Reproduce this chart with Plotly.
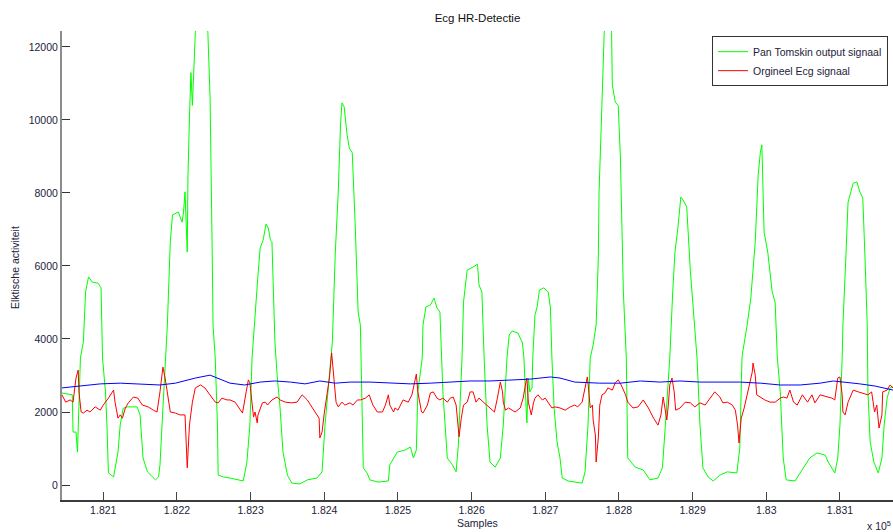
import plotly.graph_objects as go

# Pan-Tompkins output (integrated signal)
pt_samples = [182044, 182058, 182059, 182063, 182065, 182069, 182073, 182076, 182080, 182085,
              182093, 182097, 182099, 182103, 182105, 182107, 182114, 182116, 182120, 182123,
              182127, 182133, 182146, 182150, 182154, 182160, 182171, 182175, 182177, 182181,
              182187, 182191, 182194, 182202, 182207, 182209, 182211, 182214, 182215, 182217,
              182219, 182221, 182222, 182225, 182230, 182236, 182242, 182245, 182248, 182249,
              182252, 182255, 182256, 182263, 182272, 182290, 182295, 182299, 182302, 182306,
              182310, 182313, 182317, 182321, 182324, 182327, 182329, 182331, 182333, 182336,
              182340, 182344, 182350, 182356, 182367, 182377, 182390, 182397, 182401, 182405,
              182411, 182415, 182419, 182422, 182424, 182427, 182431, 182434, 182438, 182442,
              182446, 182449, 182451, 182453, 182458, 182462, 182473, 182487, 182489, 182494,
              182499, 182510, 182517, 182521, 182525, 182527, 182533, 182534, 182538, 182544,
              182549, 182553, 182557, 182561, 182564, 182567, 182574, 182579, 182582, 182587,
              182589, 182594, 182602, 182608, 182610, 182614, 182617, 182621, 182625, 182632,
              182639, 182643, 182648, 182651, 182655, 182663, 182669, 182671, 182674, 182675,
              182677, 182679, 182682, 182683, 182686, 182689, 182692, 182698, 182704, 182707,
              182709, 182712, 182716, 182720, 182723, 182731, 182750, 182754, 182758, 182761,
              182765, 182769, 182772, 182773, 182776, 182779, 182780, 182785, 182790, 182791,
              182795, 182799, 182802, 182806, 182810, 182812, 182822, 182833, 182842, 182853,
              182859, 182863, 182869, 182873, 182876, 182880, 182884, 182887, 182892, 182897,
              182901, 182906, 182910, 182914, 182921, 182928, 182937, 182947, 182960, 182964,
              182967, 182968, 182974, 182979, 182985, 182989, 182992, 182994, 182997, 183002,
              183008, 183012, 183015, 183019, 183023, 183027, 183039, 183050, 183059, 183069,
              183080, 183084, 183093, 183097, 183100, 183103, 183104, 183108, 183111, 183118,
              183123, 183127, 183131, 183134, 183137, 183138, 183141, 183146, 183152, 183157,
              183160, 183164, 183168, 183172]
pt_values = [2520, 2470, 1450, 1450, 900, 3480, 3920, 5290, 5700, 5560,
             5530, 5400, 3480, 2550, 1640, 330, 220, 470, 900, 1640,
             2100, 2140, 2140, 1920, 740, 360, 140, 220, 550, 2110,
             4380, 6660, 7400, 7480, 7200, 7480, 8030, 6380, 8490, 10050,
             11300, 10400, 10880, 12400, 13600, 13400, 12400, 10600, 6220, 4380,
             3480, 1640, 270, 220, 190, 110, 630, 1640, 3480, 4740,
             5750, 6490, 6710, 7150, 7040, 6710, 6660, 5290, 3920, 3010,
             2110, 900, 270, 50, 30, 140, 190, 360, 1640, 2550,
             3920, 6380, 8030, 9860, 10470, 10360, 9590, 9230, 9100, 7120,
             4740, 4380, 2550, 470, 330, 140, 80, 110, 550, 740,
             900, 960, 1040, 740, 960, 2550, 3480, 4380, 4880, 4930,
             5120, 4850, 4740, 2550, 1640, 740, 550, 360, 1100, 3480,
             5010, 5890, 5970, 6050, 5480, 5290, 3480, 1640, 630, 490,
             740, 1640, 3480, 4110, 4220, 4160, 3890, 3480, 2110, 1700,
             2930, 2550, 2660, 3480, 4660, 4880, 5340, 5400, 5290, 4850,
             3480, 2110, 1180, 740, 190, 110, 50, 360, 1640, 3480,
             3840, 4380, 6220, 8030, 9860, 11700, 12400, 13000, 12400, 10960,
             10490, 10400, 8960, 5290, 3480, 740, 490, 410, 140, 190,
             470, 1640, 3480, 5290, 6380, 7040, 7890, 7810, 7620, 5840,
             4660, 3480, 1640, 470, 220, 110, 270, 360, 330, 1010,
             3480, 3640, 4380, 5120, 6660, 8490, 9120, 9320, 6930, 6380,
             5290, 5010, 3480, 2550, 740, 140, 110, 470, 740, 880,
             820, 630, 330, 740, 1640, 3480, 4380, 6220, 7750, 8270,
             8300, 8030, 7860, 6220, 4380, 2550, 1180, 630, 330, 740,
             1640, 2380, 2660, 2690]

# Original ECG
ecg_samples = [182044, 182049, 182055, 182059, 182063, 182066, 182067, 182070, 182073, 182078,
               182082, 182089, 182096, 182100, 182107, 182114, 182116, 182119, 182120, 182123,
               182126, 182130, 182134, 182141, 182147, 182153, 182161, 182168, 182173, 182177,
               182180, 182181, 182184, 182187, 182191, 182198, 182204, 182211, 182213, 182214,
               182217, 182221, 182225, 182232, 182238, 182245, 182252, 182256, 182261, 182268,
               182272, 182279, 182285, 182289, 182294, 182297, 182299, 182302, 182304, 182306,
               182309, 182310, 182316, 182320, 182323, 182329, 182336, 182340, 182347, 182356,
               182363, 182370, 182377, 182384, 182390, 182393, 182394, 182397, 182400, 182404,
               182407, 182410, 182411, 182413, 182416, 182419, 182424, 182428, 182435, 182439,
               182445, 182449, 182456, 182461, 182466, 182472, 182479, 182483, 182487, 182489,
               182494, 182496, 182500, 182507, 182514, 182519, 182522, 182525, 182527, 182532,
               182534, 182540, 182544, 182548, 182553, 182557, 182561, 182567, 182571, 182575,
               182579, 182582, 182583, 182586, 182589, 182594, 182598, 182602, 182606, 182610,
               182616, 182621, 182625, 182631, 182635, 182639, 182642, 182643, 182646, 182650,
               182655, 182659, 182666, 182670, 182673, 182675, 182677, 182681, 182684, 182686,
               182690, 182696, 182700, 182704, 182709, 182713, 182720, 182727, 182734, 182740,
               182744, 182750, 182753, 182757, 182758, 182761, 182764, 182765, 182768, 182769,
               182772, 182774, 182777, 182781, 182785, 182791, 182795, 182799, 182803, 182809,
               182812, 182819, 182826, 182833, 182840, 182847, 182853, 182857, 182860, 182863,
               182865, 182867, 182869, 182872, 182875, 182877, 182883, 182890, 182897, 182903,
               182910, 182917, 182924, 182930, 182937, 182941, 182947, 182954, 182958, 182961,
               182963, 182966, 182970, 182974, 182978, 182981, 182982, 182985, 182987, 182992,
               182998, 183005, 183012, 183019, 183023, 183028, 183032, 183037, 183042, 183049,
               183056, 183062, 183066, 183073, 183082, 183089, 183093, 183097, 183100, 183103,
               183104, 183107, 183111, 183118, 183125, 183131, 183138, 183143, 183147, 183150,
               183153, 183157, 183158, 183164, 183168, 183172]
ecg_values = [2470, 2270, 2330, 2270, 2930, 3150, 2550, 2000, 1970, 2050,
              2000, 2140, 2050, 2190, 2380, 2600, 2270, 1970, 1830, 1920,
              1830, 2110, 2250, 2410, 2380, 2190, 2140, 2050, 2000, 2550,
              3010, 3230, 2930, 2470, 2000, 1970, 1920, 1920, 1180, 470,
              1640, 2270, 2660, 2740, 2660, 2470, 2270, 2250, 2380, 2330,
              2330, 2270, 2110, 1970, 2550, 2880, 2800, 2190, 1860, 2000,
              1700, 1920, 2250, 2270, 2190, 2330, 2410, 2330, 2270, 2250,
              2270, 2470, 2330, 2110, 1920, 1830, 1290, 1450, 1970, 2550,
              2930, 3620, 3370, 2930, 2270, 2140, 2270, 2190, 2250, 2190,
              2330, 2330, 2380, 2470, 2190, 2000, 2000, 2190, 2470, 2190,
              2000, 2110, 2050, 2330, 2270, 2470, 2740, 3040, 2550, 2000,
              1970, 2190, 2520, 2550, 2380, 2330, 2380, 2270, 2380, 2410,
              2190, 1640, 1320, 1830, 2190, 2270, 2550, 2550, 2270, 2380,
              2270, 2190, 2110, 2000, 2380, 2820, 2550, 2270, 2050, 2110,
              2050, 2000, 2110, 2380, 2740, 2930, 2270, 1920, 2250, 2380,
              2470, 2330, 2380, 2270, 2110, 2140, 2110, 2050, 2140, 2190,
              2140, 2270, 2550, 2960, 2800, 2110, 2190, 1780, 1370, 630,
              1290, 2190, 2470, 2520, 2660, 2600, 2800, 2880, 2740, 2470,
              2270, 2110, 2140, 2330, 2110, 1830, 1640, 1920, 2410, 2000,
              1780, 2190, 2740, 2930, 2550, 2050, 2110, 2270, 2250, 2140,
              2250, 2190, 2380, 2550, 2410, 2250, 2270, 2190, 2050, 1640,
              1150, 1830, 2110, 2470, 2740, 3100, 3340, 3010, 2470, 2410,
              2330, 2270, 2270, 2380, 2410, 2380, 2600, 2270, 2190, 2470,
              2270, 2470, 2250, 2470, 2410, 2380, 2330, 2930, 2960, 2470,
              2000, 1920, 2270, 2600, 2550, 2520, 2470, 2550, 2000, 2190,
              1560, 1920, 2550, 2600, 2740, 2660]

# Adaptive detection threshold
thr_samples = [182044, 182069, 182096, 182123, 182150, 182177, 182198, 182225, 182245, 182259,
               182272, 182292, 182313, 182333, 182354, 182374, 182394, 182415, 182435, 182462,
               182496, 182517, 182544, 182571, 182598, 182625, 182652, 182679, 182707, 182720,
               182740, 182774, 182802, 182829, 182856, 182883, 182910, 182937, 182964, 182992,
               183019, 183046, 183073, 183091, 183107, 183127, 183148, 183172]
thr_values = [2660, 2710, 2770, 2790, 2770, 2740, 2790, 2930, 3010, 2900,
              2790, 2740, 2820, 2850, 2820, 2770, 2850, 2790, 2820, 2820,
              2790, 2770, 2790, 2820, 2850, 2850, 2880, 2900, 2960, 2930,
              2820, 2790, 2790, 2850, 2820, 2850, 2820, 2820, 2820, 2790,
              2740, 2740, 2790, 2850, 2820, 2770, 2710, 2600]

x_tick_vals = [182100, 182200, 182300, 182400, 182500, 182600, 182700, 182800, 182900, 183000, 183100]
x_tick_text = ["1.821", "1.822", "1.823", "1.824", "1.825", "1.826", "1.827", "1.828", "1.829", "1.83", "1.831"]
y_tick_vals = [0, 2000, 4000, 6000, 8000, 10000, 12000]
y_tick_text = ["0", "2000", "4000", "6000", "8000", "10000", "12000"]

FONT = "Liberation Sans, Arial, sans-serif"
TXT = "#1c1c3c"

fig = go.Figure()
fig.add_trace(go.Scatter(x=pt_samples, y=pt_values, mode="lines",
                         line=dict(color="#00ff00", width=1),
                         name="Pan Tomskin output signaal"))
fig.add_trace(go.Scatter(x=ecg_samples, y=ecg_values, mode="lines",
                         line=dict(color="#ff0000", width=1),
                         name="Orgineel Ecg signaal"))
fig.add_trace(go.Scatter(x=thr_samples, y=thr_values, mode="lines",
                         line=dict(color="#0000ff", width=1),
                         showlegend=False, name="drempel"))

fig.update_layout(
    width=893, height=532,
    margin=dict(l=62, r=0, t=31, b=32),
    paper_bgcolor="white", plot_bgcolor="white",
    font=dict(family=FONT, size=10.5, color=TXT),
    title=dict(text="Ecg HR-Detectie", x=0.5, xref="paper", xanchor="center",
               y=1 - 18 / 532, yref="container", yanchor="middle",
               font=dict(family=FONT, size=11.5, color="#111111")),
    xaxis=dict(range=[182044, 183172], tickvals=x_tick_vals, ticktext=x_tick_text,
               showgrid=False, zeroline=False, showline=True, linecolor="#3c3c3c", linewidth=1.5,
               ticks="inside", ticklen=8, tickcolor="#444444", tickwidth=1,
               tickfont=dict(family=FONT, size=10.5, color=TXT)),
    yaxis=dict(range=[-411, 12438], tickvals=y_tick_vals, ticktext=y_tick_text,
               showgrid=False, zeroline=False, showline=True, linecolor="#8c8c8c", linewidth=2,
               ticks="inside", ticklen=8, tickcolor="#333333", tickwidth=1.2,
               tickfont=dict(family=FONT, size=10.5, color=TXT)),
    legend=dict(x=0.994, xanchor="right", y=0.989, yanchor="top",
                bgcolor="white", bordercolor="#333333", borderwidth=1,
                font=dict(family=FONT, size=10.5, color=TXT),
                tracegroupgap=0),
    annotations=[
        dict(text="Samples", xref="paper", yref="paper", x=0.5, y=(500 - 523) / 469,
             xanchor="center", yanchor="middle", showarrow=False,
             font=dict(family=FONT, size=10.5, color=TXT)),
        dict(text="Elktische activiteit", xref="paper", yref="paper",
             x=(15 - 62) / 831, y=(500 - 268) / 469, textangle=-90,
             xanchor="center", yanchor="middle", showarrow=False,
             font=dict(family=FONT, size=10.5, color=TXT)),
        dict(text="x 10<sup>5</sup>", xref="paper", yref="paper",
             x=1.0, y=(500 - 525) / 469,
             xanchor="right", yanchor="middle", showarrow=False,
             font=dict(family=FONT, size=10.5, color=TXT)),
    ],
)

fig.write_html("out.html")
